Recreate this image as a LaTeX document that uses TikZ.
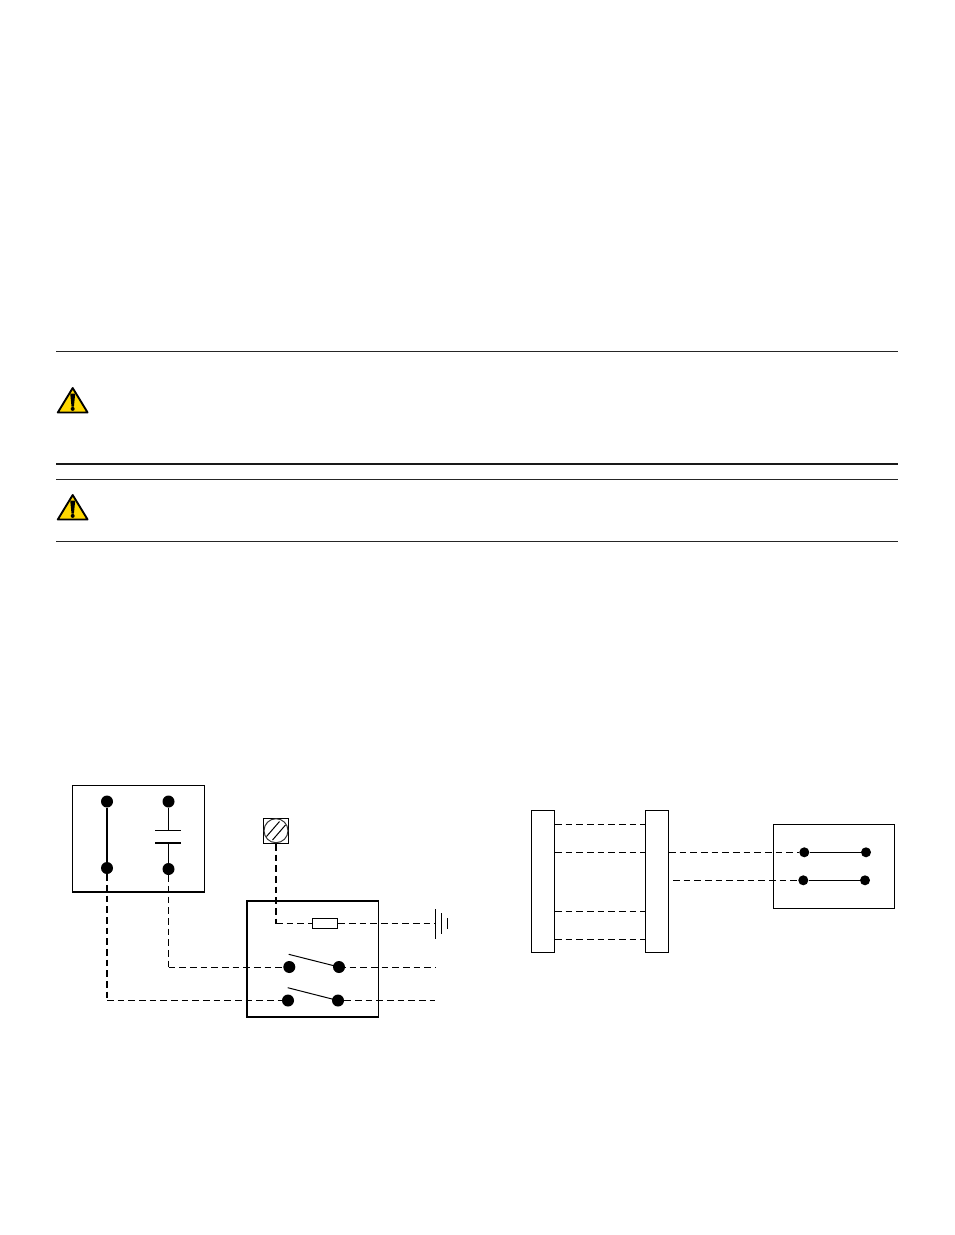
\documentclass[tikz,border=0pt]{standalone}
\definecolor{warnyellow}{HTML}{FFD800}
\tikzset{
  dot/.style={circle,fill=black,inner sep=0pt,minimum size=9pt},
  smalldot/.style={circle,fill=black,inner sep=0pt,minimum size=7.5pt},
  box/.style={draw,line width=0.9pt,inner sep=0pt},
  wire/.style={line width=0.75pt},
  thickwire/.style={line width=1.5pt},
  dashwire/.style={line width=0.75pt,dash pattern=on 5pt off 3pt},
  thickdash/.style={line width=1.6pt,dash pattern=on 5pt off 3pt},
  rulethin/.style={line width=0.7pt,draw=black!85},
  rulethick/.style={line width=1.5pt,draw=black!90},
}
\begin{document}
\begin{tikzpicture}[x=0.75pt,y=-0.75pt]
    \useasboundingbox [fill=white] (0,0) rectangle (954,1235);
    % rules
    \foreach \r/\k in {351/rulethin,464/rulethick,479.5/rulethin,541.5/rulethin}
      \draw [\k] (56,\r) -- (898,\r);
    % warning signs
    \foreach \t in {386.5,493.5} {
      \fill [warnyellow,draw=black,line width=1.4pt,line join=round]
        (72.7,\t+1.5) -- (87.6,\t+26) -- (57.8,\t+26) -- cycle;
      \fill (70.2,\t+7) -- (75.2,\t+7) -- (73.9,\t+20) -- (71.5,\t+20) -- cycle;
      \fill (72.7,\t+22.4) circle (2);
    }
    % left box
    \draw [box] (72.5,785.5) rectangle (204.5,892);
    \node [dot] (A0_0) at (107,801.5) {};
    \node [dot] (A0_1) at (168.5,801.5) {};
    \node [dot] (A1_0) at (107,868) {};
    \node [dot] (A1_1) at (168.5,869) {};
    \coordinate (C0) at (168.5,830.5);
    \coordinate (C1) at (168.5,842.5);
    \path (A0_0) edge [thickwire] (A1_0);
    \path (A0_1) edge [wire] (C0);
    \path (A1_1) edge [wire] (C1);
    \draw [wire] (155,830.5) -- (181,830.5);
    \draw [thickwire] (155,842.5) -- (181,842.5);
    % screw
    \node [box,minimum size=18.75pt,line width=1pt] (S0) at (276,830.7) {};
    \draw [black!80,line width=0.75pt] (S0.center) circle (12);
    \draw [wire] (266.5,836.5) -- (279.5,821.5);
    \draw [wire] (272.5,840) -- (285.5,825);
    % switch box
    \draw [box,line width=1.2pt] (246.7,900.7) rectangle (378.5,1016.8);
    \coordinate (B0) at (276,923.5);
    \node [draw,line width=0.9pt,inner sep=0pt,minimum width=18.75pt,minimum height=8pt] (F0) at (325.2,923.5) {};
    \coordinate (G0) at (435.7,923.5);
    \path (S0) edge [thickdash] (B0);
    \path (B0) edge [dashwire] (F0);
    \path (F0) edge [dashwire] (G0);
    % earth
    \draw [wire] (435.5,909.3) -- (435.5,938.7);
    \draw [wire] (441.5,913.3) -- (441.5,934);
    \draw [wire] (447.5,918) -- (447.5,929);
    % switches
    \node [dot] (D0_0) at (289.3,967) {};
    \node [dot] (D0_1) at (339,967) {};
    \node [dot] (D1_0) at (288,1000.5) {};
    \node [dot] (D1_1) at (338,1000.5) {};
    \coordinate (E0) at (168.5,967.5);
    \coordinate (E1) at (107,1000.5);
    \coordinate (L0) at (435.7,967.5);
    \coordinate (L1) at (434.5,1000.5);
    \path (A1_1) edge [dashwire] (E0);
    \path (E0) edge [dashwire] (D0_0 |- E0);
    \path (A1_0) edge [thickdash] (E1);
    \path (E1) edge [dashwire] (D1_0);
    \path (D0_1 |- L0) edge [dashwire] (L0);
    \path (D1_1) edge [dashwire] (L1);
    \draw [wire] (288.7,954.3) -- (D0_1.center);
    \draw [wire] (287.7,987.7) -- (D1_1.center);
    % right side
    \node [box,minimum width=17.25pt,minimum height=106.5pt] (P0) at (542.8,881.3) {};
    \node [box,minimum width=17.25pt,minimum height=106.5pt] (P1) at (656.8,881.3) {};
    \draw [box] (773.3,824.3) rectangle (894.3,908.3);
    \node [smalldot] (R0_0) at (804.3,852.3) {};
    \node [smalldot] (R0_1) at (866,852.3) {};
    \node [smalldot] (R1_0) at (803.3,880.3) {};
    \node [smalldot] (R1_1) at (865,880.3) {};
    \coordinate (W0) at (673,880.3);
    \path (R0_0) edge [wire] (R0_1);
    \path (R1_0) edge [wire] (R1_1);
    \path (P1.east |- R0_0) edge [dashwire] (R0_0);
    \path (W0) edge [dashwire] (R1_0);
    \foreach \r in {824.3,852.3,911.3,939.3}
      \draw [dashwire] (P0.east |- 0,\r) -- (P1.west |- 0,\r);
\end{tikzpicture}
\end{document}
